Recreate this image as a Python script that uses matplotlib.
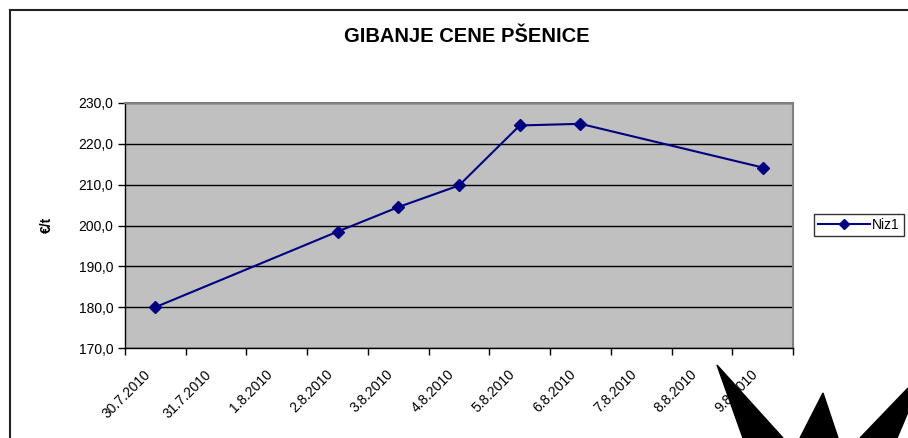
import numpy as np
import matplotlib
matplotlib.use('Agg')
import matplotlib.pyplot as plt
from matplotlib.patches import Polygon
from matplotlib.lines import Line2D
from matplotlib.transforms import ScaledTranslation

plt.rcParams['font.family'] = ['Liberation Sans', 'DejaVu Sans']

# Data
dates  = ['30.7.2010', '31.7.2010', '1.8.2010', '2.8.2010', '3.8.2010', '4.8.2010',
          '5.8.2010', '6.8.2010', '7.8.2010', '8.8.2010', '9.8.2010']
prices = [180.0, None, None, 198.5, 204.5, 209.8, 224.5, 224.9, None, None, 214.2]
series = 'Niz1'
title  = 'GIBANJE CENE PŠENICE'
ylabel = '€/t'
yticks = [170, 180, 190, 200, 210, 220, 230]

W, H = 908, 438
fig = plt.figure(figsize=(W/100, H/100), dpi=100)

def px(x, y):
    return (x / W, 1 - y / H)

# chart area frame (only left/top visible in the picture)
fig.add_artist(Line2D([10/W, 10/W], [0, 1 - 10/H], color='#222222', lw=1.5))
fig.add_artist(Line2D([10/W, 1], [1 - 10/H, 1 - 10/H], color='#222222', lw=1.5))

ax = fig.add_axes([125/W, 1 - 348/H, 668/W, 245/H])
ax.set_facecolor('#C0C0C0')

xs = [i for i, v in enumerate(prices) if v is not None]
ys = [v for v in prices if v is not None]
ax.plot(xs, ys, color='#000080', lw=1.5, marker='D', markersize=6,
        markerfacecolor='#000080', markeredgecolor='#000080', label=series, zorder=3)

ax.set_xlim(-0.5, len(dates) - 0.5)
ax.set_ylim(yticks[0], yticks[-1])
ax.set_yticks(yticks)
ax.set_yticklabels([('%.1f' % v).replace('.', ',') for v in yticks], fontsize=10)
ax.yaxis.grid(True, color='black', lw=1)
ax.set_axisbelow(True)

# category boundaries as ticks, labels at centres
ax.set_xticks(np.arange(-0.5, len(dates), 1.0))
ax.set_xticklabels([])
ax.set_xticks(np.arange(len(dates)), minor=True)
ax.set_xticklabels(dates, minor=True, rotation=45, ha='right', va='top',
                   rotation_mode='anchor', fontsize=10)
ax.tick_params(axis='x', which='minor', length=0, pad=14)
ax.tick_params(axis='both', which='major', direction='out', length=5, width=1, color='black')
shift = ScaledTranslation(-12/100, 0, fig.dpi_scale_trans)
for lab in ax.get_xticklabels(minor=True):
    lab.set_transform(lab.get_transform() + shift)

for s in ['top', 'right']:
    ax.spines[s].set_color('#808080')
    ax.spines[s].set_linewidth(1.5)
for s in ['left', 'bottom']:
    ax.spines[s].set_color('black')
    ax.spines[s].set_linewidth(1)

fig.text(467/W, 1 - 37/H, title, ha='center', va='center', fontsize=14.5, fontweight='bold')
fig.text(47/W, 1 - 225/H, ylabel, ha='center', va='center', rotation=90,
         fontsize=10, fontweight='bold')

leg = fig.legend(handles=[Line2D([], [], color='#000080', lw=1.5, marker='D',
                                 markersize=5, label=series)],
                 loc='center left', bbox_to_anchor=(814/W, 1 - 225/H),
                 frameon=True, fancybox=False, fontsize=10, handlelength=3.7,
                 borderpad=0.3, handletextpad=0.2, borderaxespad=0)
leg.get_frame().set_edgecolor('black')
leg.get_frame().set_linewidth(1)

# black spikes in the lower right corner
for pts in [[(717, 365), (743, 438), (783, 438)],
            [(823, 393), (800, 438), (838, 438)],
            [(908, 388), (860, 438), (897, 438), (908, 412)]]:
    fig.add_artist(Polygon([px(a, b) for a, b in pts], closed=True,
                           facecolor='black', edgecolor='black', transform=fig.transFigure))

fig.savefig('out.png', dpi=100)
